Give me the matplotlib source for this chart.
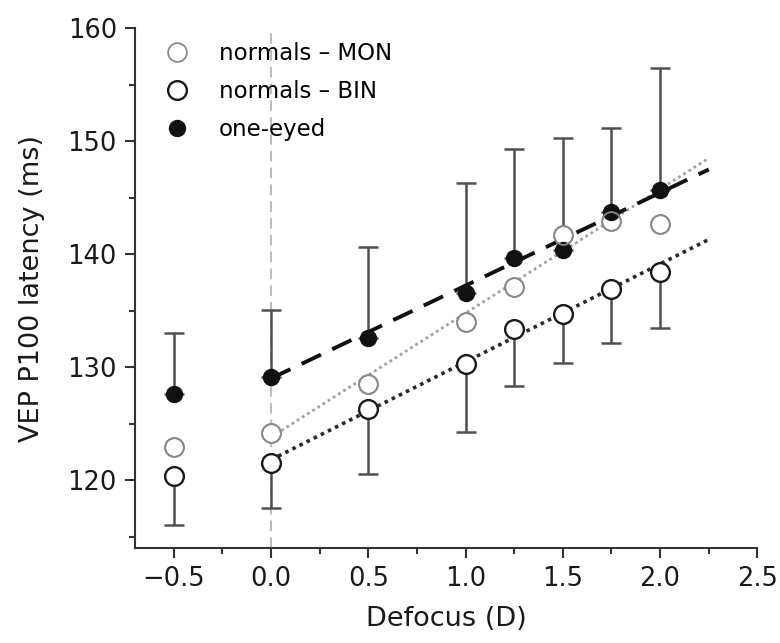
import matplotlib
matplotlib.use("Agg")
import matplotlib.pyplot as plt
from matplotlib.ticker import MultipleLocator, FixedLocator

plt.rcParams['font.family'] = ['DejaVu Sans']

# Defocus levels (D)
defocus = [-0.5, 0.0, 0.5, 1.0, 1.25, 1.5, 1.75, 2.0]

# Mean P100 latency (ms)
normals_mon = [122.9, 124.2, 128.5, 134.0, 137.1, 141.7, 142.9, 142.7]
normals_bin = [120.4, 121.5, 126.3, 130.3, 133.4, 134.7, 136.9, 138.4]
one_eyed = [127.6, 129.1, 132.6, 136.6, 139.7, 140.4, 143.7, 145.7]

# One-sided SD bars: downward for binocular normals, upward for one-eyed
bin_lower_err = [4.4, 4.0, 5.8, 6.0, 5.1, 4.3, 4.8, 4.9]
one_upper_err = [5.4, 6.0, 8.0, 9.7, 9.6, 9.9, 7.5, 10.8]

# Regression lines over the defocus range 0 .. 2.25 D
fit_x = [0.0, 2.25]
fit_one = [129.0, 147.5]
fit_mon = [123.8, 148.5]
fit_bin = [121.8, 141.3]

labels = ["normals \u2013 MON", "normals \u2013 BIN", "one-eyed"]

fig = plt.figure(figsize=(7.8, 6.43), dpi=100)
ax = fig.add_axes([0.173, 0.148, 0.798, 0.808])

ax.axvline(0.0, color="#a8a8a8", lw=1.1, dashes=(7, 4), zorder=1)

err_kw = dict(fmt="none", ecolor="#505050", elinewidth=1.8, capsize=7,
              capthick=1.8, zorder=2)
zeros = [0] * len(defocus)
ax.errorbar(defocus, normals_bin, yerr=[bin_lower_err, zeros], **err_kw)
ax.errorbar(defocus, one_eyed, yerr=[zeros, one_upper_err], **err_kw)

ax.plot(fit_x, fit_mon, color="#a0a0a0", lw=2.0, linestyle=(0, (1, 1.2)),
        zorder=3)
ax.plot(fit_x, fit_bin, color="#2a2a2a", lw=2.6, linestyle=(0, (1, 1.2)),
        zorder=3)
ax.plot(fit_x, fit_one, color="#111111", lw=2.8, dashes=(5.5, 3.2), zorder=3)

h_mon, = ax.plot(defocus, normals_mon, "o", ms=13.5, mfc="white",
                 mec="#8a8a8a", mew=1.3, zorder=4, label=labels[0])
h_bin, = ax.plot(defocus, normals_bin, "o", ms=13.5, mfc="white",
                 mec="#1a1a1a", mew=1.7, zorder=4, label=labels[1])
h_one, = ax.plot(defocus, one_eyed, "o", ms=11.5, mfc="#111111",
                 mec="#111111", mew=1.0, zorder=5, label=labels[2])
# monocular circle outlines stay visible on top of the other marks
ax.plot(defocus, normals_mon, "o", ms=13.5, mfc="none", mec="#8a8a8a",
        mew=1.3, zorder=6)

ax.set_xlim(-0.7, 2.5)
ax.set_ylim(114.0, 160.0)
ax.xaxis.set_major_locator(FixedLocator([-0.5, 0.0, 0.5, 1.0, 1.5, 2.0, 2.5]))
ax.xaxis.set_minor_locator(MultipleLocator(0.25))
ax.yaxis.set_major_locator(MultipleLocator(10))
ax.yaxis.set_minor_locator(MultipleLocator(5))
ax.set_xticklabels(["\u22120.5", "0.0", "0.5", "1.0", "1.5", "2.0", "2.5"])

for side in ("top", "right"):
    ax.spines[side].set_visible(False)
for side in ("left", "bottom"):
    ax.spines[side].set_color("#333333")
    ax.spines[side].set_linewidth(1.5)

ax.tick_params(which="major", direction="out", length=7, width=1.5,
               color="#333333", labelsize=18.5, labelcolor="#1a1a1a", pad=6)
ax.tick_params(which="minor", direction="out", length=4.5, width=1.5,
               color="#333333")

ax.set_xlabel("Defocus (D)", fontsize=19.5, color="#1a1a1a", labelpad=10)
ax.set_ylabel("VEP P100 latency (ms)", fontsize=19.5, color="#1a1a1a",
              labelpad=16)

ax.legend(handles=[h_mon, h_bin, h_one], loc="upper left",
          bbox_to_anchor=(0.024, 1.005), frameon=False, fontsize=16.5,
          handlelength=1.0, handletextpad=1.3, labelspacing=0.66,
          borderaxespad=0.3)

fig.savefig("out.png", dpi=100)
